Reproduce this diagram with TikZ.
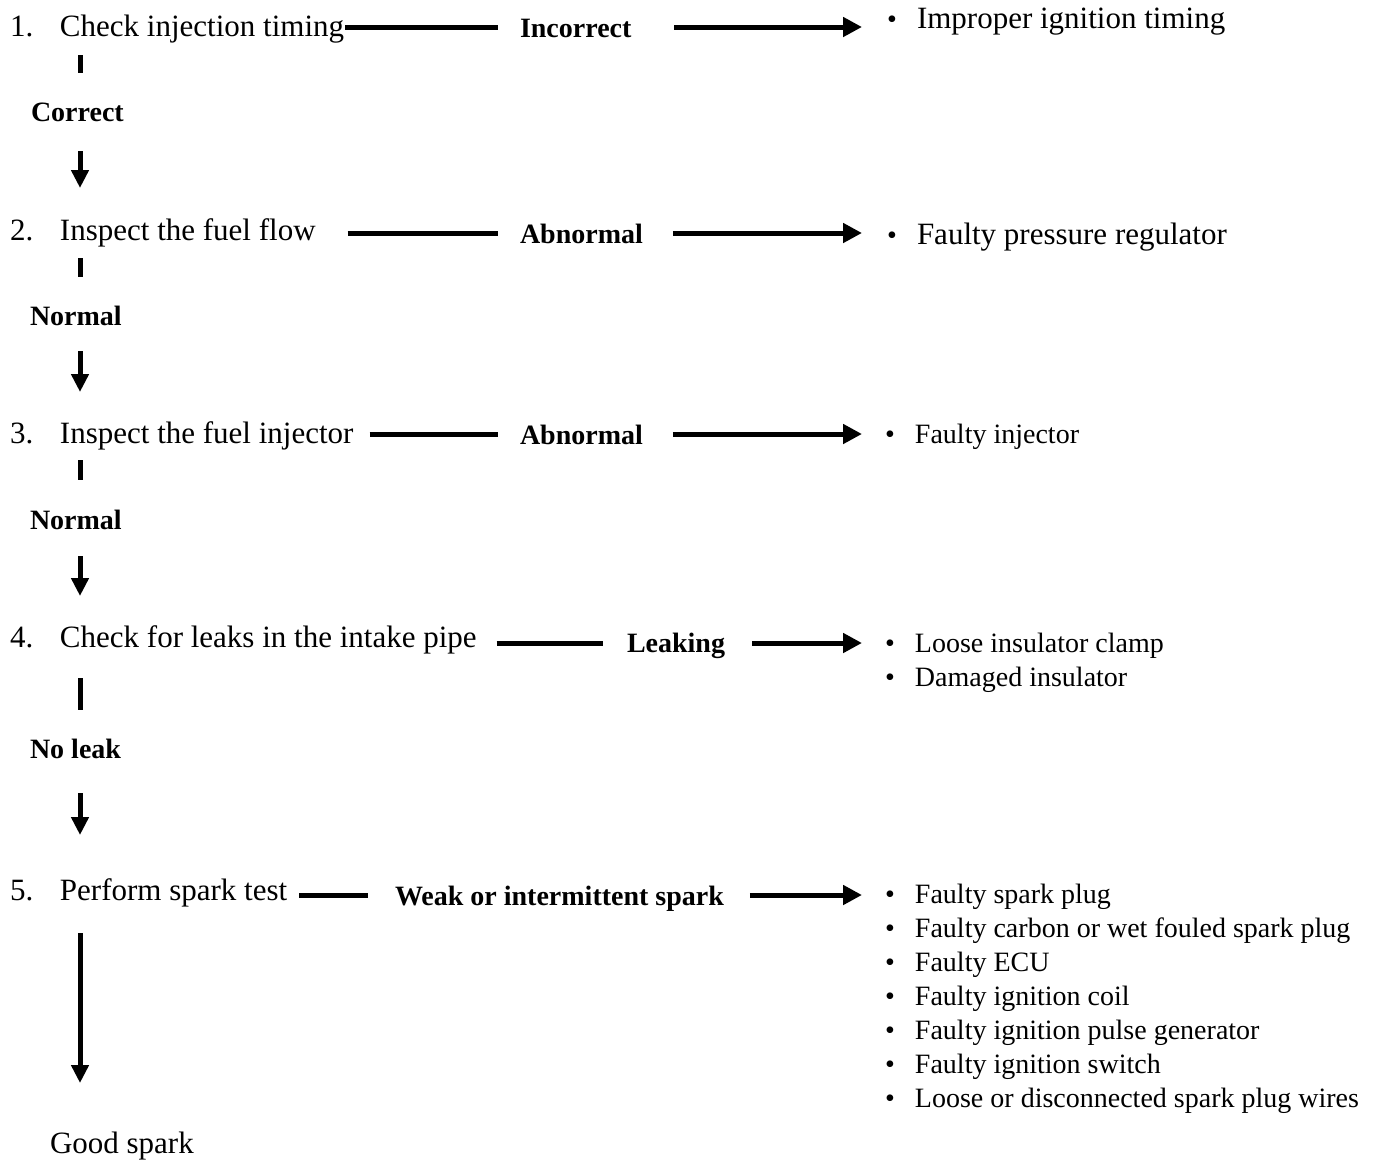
\documentclass[tikz,border=0pt]{standalone}
\usepackage{fontspec}
\setmainfont{Liberation Serif}
\usetikzlibrary{arrows.meta}
\begin{document}
\begin{tikzpicture}[x=1pt,y=-1pt,
  txt/.style={anchor=base west,inner sep=0pt,outer sep=0pt,text height=23pt,text depth=8pt,font=\fontsize{31}{34}\selectfont},
  steptxt/.style={txt},
  lab/.style={txt,text height=21pt,text depth=7pt,font=\fontsize{28}{32}\selectfont\bfseries},
  outc/.style={txt},
  outs/.style={anchor=base west,inner sep=0pt,outer sep=0pt,font=\fontsize{28}{34}\selectfont},
  hline/.style={line width=5pt},
  harrow/.style={line width=5pt,-{Triangle[length=19pt,width=19pt]}},
  vbar/.style={line width=5pt},
  varrow/.style={line width=5pt,-{Triangle[length=18pt,width=17pt]}}]
\useasboundingbox (0,0) rectangle (1381,1162);
\fill[white] (0,0) rectangle (1381,1162);
\newcommand{\num}[1]{\makebox[50pt][l]{#1}}
\newcommand{\bul}{\makebox[30pt][l]{\fontsize{28}{28}\selectfont\textbullet}}
% column and rows
\coordinate (col) at (80,0);
\coordinate (r1) at (0,27);
\coordinate (r2) at (0,233);
\coordinate (r3) at (0,434);
\coordinate (r4) at (0,643);
\coordinate (r5) at (0,895);
% steps
\node[steptxt] (s1) at (10,36) {\num{1.}Check injection timing};
\node[steptxt] (s2) at (10,240) {\num{2.}Inspect the fuel flow};
\node[steptxt] (s3) at (10,443) {\num{3.}Inspect the fuel injector};
\node[steptxt] (s4) at (10,647) {\num{4.}Check for leaks in the intake pipe};
\node[steptxt] (s5) at (10,900) {\num{5.}Perform spark test};
\node[steptxt] (gs) at (50,1153) {Good spark};
% vertical labels
\node[lab] (c1) at (31,121) {Correct};
\node[lab] (c2) at (30,325) {Normal};
\node[lab] (c3) at (30,529) {Normal};
\node[lab] (c4) at (30,758) {No leak};
% horizontal labels
\node[lab] (h1) at (520,37) {Incorrect};
\node[lab] (h2) at (520,243) {Abnormal};
\node[lab] (h3) at (520,444) {Abnormal};
\node[lab] (h4) at (627,652) {Leaking};
\node[lab] (h5) at (395,905) {Weak or intermittent spark};
% outcomes
\node[outc] (o1) at (887,28) {\bul Improper ignition timing};
\node[outc] (o2) at (887,244) {\bul Faulty pressure regulator};
\node[outs] (o3) at (885,443) {\bul Faulty injector};
\node[outs] (o4) at (885,652) {\begin{tabular}[t]{@{}l@{}}\bul Loose insulator clamp\\\bul Damaged insulator\end{tabular}};
\node[outs] (o5) at (885,903) {\begin{tabular}[t]{@{}l@{}}\bul Faulty spark plug\\
\bul Faulty carbon or wet fouled spark plug\\
\bul Faulty ECU\\
\bul Faulty ignition coil\\
\bul Faulty ignition pulse generator\\
\bul Faulty ignition switch\\
\bul Loose or disconnected spark plug wires\end{tabular}};
% horizontal connectors
\draw[hline,shorten <=1pt,shorten >=22pt] (s1.east |- r1) -- (h1.west |- r1);
\draw[harrow,shorten <=43pt,shorten >=25pt] (h1.east |- r1) -- (o1.west |- r1);
\draw[hline,shorten <=32pt,shorten >=22pt] (s2.east |- r2) -- (h2.west |- r2);
\draw[harrow,shorten <=30pt,shorten >=25pt] (h2.east |- r2) -- (o2.west |- r2);
\draw[hline,shorten <=16pt,shorten >=22pt] (s3.east |- r3) -- (h3.west |- r3);
\draw[harrow,shorten <=30pt,shorten >=23pt] (h3.east |- r3) -- (o3.west |- r3);
\draw[hline,shorten <=20pt,shorten >=24pt] (s4.east |- r4) -- (h4.west |- r4);
\draw[harrow,shorten <=27pt,shorten >=23pt] (h4.east |- r4) -- (o4.west |- r4);
\draw[hline,shorten <=12pt,shorten >=27pt] (s5.east |- r5) -- (h5.west |- r5);
\draw[harrow,shorten <=26pt,shorten >=23pt] (h5.east |- r5) -- (o5.west |- r5);
% vertical connectors
\draw[vbar,shorten <=11pt,shorten >=27pt] (s1.south -| col) -- (c1.north -| col);
\draw[varrow,shorten <=23pt,shorten >=29pt] (c1.south -| col) -- (s2.north -| col);
\draw[vbar,shorten <=10pt,shorten >=27pt] (s2.south -| col) -- (c2.north -| col);
\draw[varrow,shorten <=19pt,shorten >=28pt] (c2.south -| col) -- (s3.north -| col);
\draw[vbar,shorten <=9pt,shorten >=28pt] (s3.south -| col) -- (c3.north -| col);
\draw[varrow,shorten <=20pt,shorten >=28pt] (c3.south -| col) -- (s4.north -| col);
\draw[vbar,shorten <=23pt,shorten >=27pt] (s4.south -| col) -- (c4.north -| col);
\draw[varrow,shorten <=28pt,shorten >=42pt] (c4.south -| col) -- (s5.north -| col);
\draw[varrow,shorten <=25pt,shorten >=47pt] (s5.south -| col) -- (gs.north -| col);
\end{tikzpicture}
\end{document}
